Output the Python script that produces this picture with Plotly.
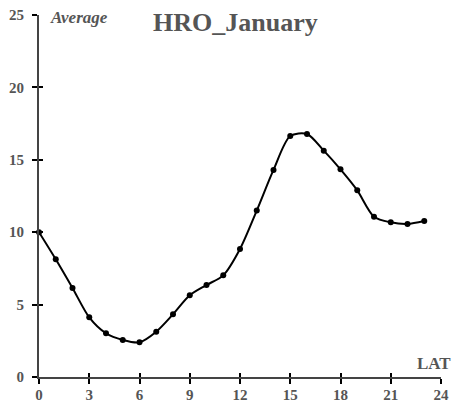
import plotly.graph_objects as go

hours = list(range(24))
average = [10.0, 8.13, 6.15, 4.12, 3.02, 2.56, 2.40, 3.13, 4.33, 5.64, 6.35, 7.02,
           8.84, 11.49, 14.30, 16.64, 16.78, 15.63, 14.34, 12.89, 11.07, 10.68, 10.57, 10.77]
x_ticks = [0, 3, 6, 9, 12, 15, 18, 21, 24]
y_ticks = [0, 5, 10, 15, 20, 25]

FONT = "Liberation Serif"
GRAY = "#555555"
AX = "#444444"

fig = go.Figure()
fig.add_trace(go.Scatter(x=hours, y=average, mode="lines+markers",
                         line=dict(shape="spline", smoothing=0.8, color="black", width=2),
                         marker=dict(size=6, color="black"), showlegend=False,
                         hoverinfo="skip", cliponaxis=False))
fig.add_trace(go.Scatter(x=[0], y=[0], xaxis="x2", yaxis="y2", mode="markers",
                         marker=dict(size=1, opacity=0), showlegend=False, hoverinfo="skip"))

common = dict(showgrid=False, zeroline=False, showline=True, linecolor=AX, linewidth=2,
              ticks="outside", ticklen=5, tickwidth=1.5, tickcolor="black", automargin=False,
              tickfont=dict(family=FONT, size=15, color=GRAY))
fig.update_layout(
    width=455, height=403,
    margin=dict(l=39, r=14, t=15, b=26),
    paper_bgcolor="white", plot_bgcolor="white",
    xaxis=dict(range=[0, 24], tickvals=x_ticks, ticktext=[f"<b>{v}</b>" for v in x_ticks],
               ticklabelstandoff=-2, **common),
    yaxis=dict(range=[0, 25], tickvals=y_ticks, ticktext=[f"<b>{v}</b>" for v in y_ticks],
               ticklabelstandoff=5, **common),
    xaxis2=dict(range=[0, 24], tickvals=x_ticks, overlaying="x", ticks="inside", ticklen=4,
                tickwidth=1.5, tickcolor="black", showticklabels=False, showgrid=False,
                zeroline=False, showline=False, anchor="y2", side="bottom", automargin=False),
    yaxis2=dict(range=[0, 25], tickvals=y_ticks, overlaying="y", ticks="inside", ticklen=4,
                tickwidth=1.5, tickcolor="black", showticklabels=False, showgrid=False,
                zeroline=False, showline=False, anchor="x2", side="left", automargin=False),
)
fig.add_annotation(text="<b>HRO_January</b>", xref="paper", yref="paper", x=0.488, y=0.98,
                   xanchor="center", yanchor="middle", showarrow=False,
                   font=dict(family=FONT, size=26, color=GRAY))
fig.add_annotation(text="<b><i>Average</i></b>", xref="paper", yref="paper", x=0.022, y=0.992,
                   xanchor="left", yanchor="middle", showarrow=False,
                   font=dict(family=FONT, size=17, color=GRAY))
fig.add_annotation(text="<b>LAT</b>", xref="paper", yref="paper", x=1.03, y=0.0,
                   xanchor="right", yanchor="bottom", yshift=2, showarrow=False,
                   font=dict(family=FONT, size=17, color=GRAY))

fig.write_html("out.html")
